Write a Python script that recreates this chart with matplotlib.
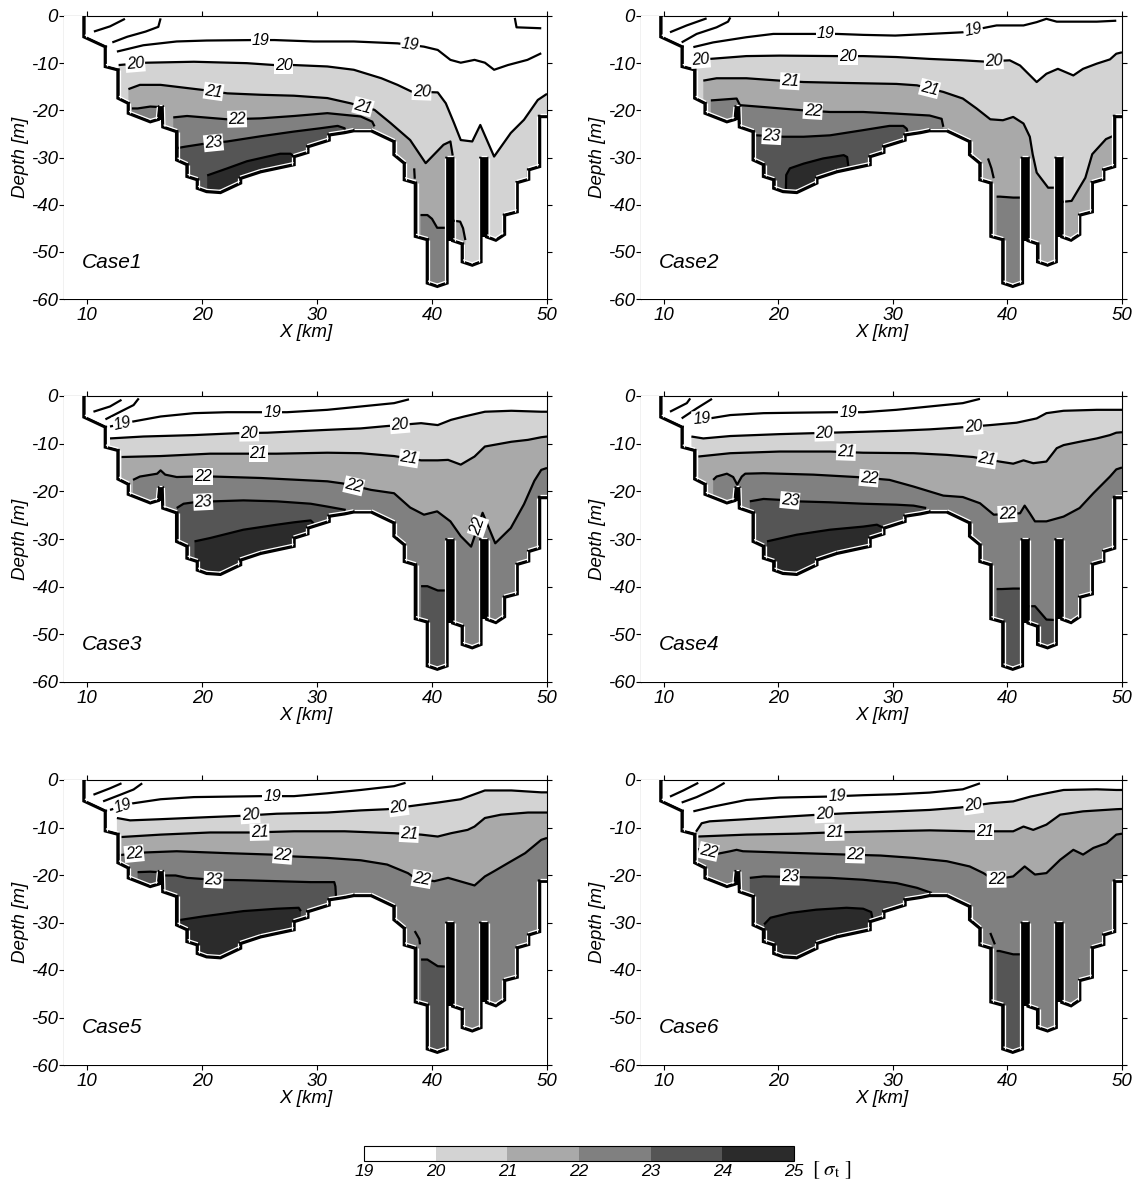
import numpy as np
import matplotlib
matplotlib.use('Agg')
import matplotlib.pyplot as plt
from matplotlib.collections import LineCollection
from matplotlib.transforms import IdentityTransform
from matplotlib.colors import ListedColormap, BoundaryNorm
from matplotlib.cm import ScalarMappable

plt.rcParams['font.family'] = ['Liberation Sans', 'DejaVu Sans']

# ---------------- data ----------------
X_TICKS = [10, 20, 30, 40, 50]
Y_TICKS = [0, -10, -20, -30, -40, -50, -60]
SIGMA_LEVELS = [19, 20, 21, 22, 23, 24, 25]
BAND_GRAYS = ['#ffffff', '#d3d3d3', '#a9a9a9', '#808080', '#555555', '#2b2b2b']
CASE_NAMES = ['Case1', 'Case2', 'Case3', 'Case4', 'Case5', 'Case6']

# bottom topography (x [km], depth [m])
BATHY_X = [9.74, 9.74, 11.6, 11.6, 12.7, 12.7, 13.6, 13.6, 15.5, 16.2, 16.3, 16.55, 16.6,
           17.8, 17.8, 18.7, 18.7, 19.6, 19.6, 20.4, 21.6, 23.35, 23.35, 25.1, 28.0, 28.0,
           29.2, 29.2, 31.05, 31.05, 32.4, 33.2, 34.7, 36.7, 36.7, 37.6, 37.6, 38.56, 38.56,
           39.6, 39.6, 40.46, 41.3, 41.3, 41.8, 41.8, 42.64, 42.64, 43.5, 44.25, 44.25, 44.75,
           44.75, 45.55, 46.3, 46.3, 47.4, 47.4, 48.4, 48.4, 49.35, 49.35, 50.0]
BATHY_Z = [0.0, -4.4, -6.5, -10.7, -11.4, -17.4, -18.5, -20.6, -22.4, -21.9, -19.3, -19.3, -23.5,
           -24.5, -30.5, -31.5, -34.0, -34.7, -36.5, -37.2, -37.4, -35.4, -34.4, -33.0, -31.5, -29.8,
           -28.9, -27.7, -26.3, -25.2, -24.7, -24.3, -24.3, -26.6, -29.4, -31.2, -34.7, -35.4, -46.7,
           -47.4, -56.6, -57.3, -56.6, -30.2, -30.2, -47.6, -48.3, -52.1, -52.8, -52.1, -30.2, -30.2,
           -46.8, -47.5, -46.3, -42.2, -41.5, -35.3, -34.6, -32.6, -31.9, -21.3, -21.3]
RIDGE_X0 = [16.3, 41.3, 44.25]
RIDGE_X1 = [16.55, 41.8, 44.75]
RIDGE_TOP = [-19.3, -30.2, -30.2]
RIDGE_BASE = [-22.0, -47.6, -46.8]

# isopycnal lines per case: sigma_t level -> list of (x, depth)
CASE1_LINES = {
    17: [([10.6, 12.0, 13.3], [-3.3, -2.2, -0.6])],
    18: [([12.2, 13.5, 15.1, 16.2, 16.4], [-5.6, -4.4, -3.3, -2.3, -0.5]),
         ([47.2, 47.35, 49.5], [-0.4, -2.4, -2.6])],
    19: [([12.6, 14.9, 17.8, 20.4, 24.5, 26.3, 29.7, 33.2, 37.0, 39.3, 40.5, 41.6, 42.5, 43.7, 44.6, 45.4, 46.6, 48.3, 49.5],
          [-7.55, -6.2, -5.4, -5.2, -5.1, -5.1, -5.4, -5.4, -5.8, -6.5, -7.2, -9.3, -9.9, -9.3, -9.9, -11.4, -10.4, -9.3, -7.9])],
    20: [([12.75, 15.2, 19.3, 23.9, 26.3, 28.0, 30.9, 33.2, 35.6, 37.0, 38.2, 40.5, 41.2, 41.9, 42.5, 43.5, 44.2, 45.4, 46.85, 48.0, 49.2, 50.0],
          [-10.4, -9.9, -9.7, -10.0, -10.4, -10.4, -10.7, -11.4, -13.2, -14.6, -16.0, -16.2, -18.5, -22.6, -26.3, -26.6, -23.1, -29.8, -24.8, -22.0, -17.8, -16.5])],
    21: [([13.6, 14.6, 16.4, 20.15, 22.2, 25.1, 28.0, 30.9, 32.9, 35.0, 36.4, 38.1, 39.45, 41.0, 41.6, 41.8],
          [-15.5, -14.6, -14.6, -15.7, -16.4, -16.7, -16.9, -17.4, -18.5, -19.9, -22.7, -26.3, -31.2, -27.3, -26.6, -29.6]),
         ([41.9, 42.45, 42.7, 42.9], [-43.4, -43.6, -45.0, -47.5])],
    22: [([17.5, 18.7, 22.2, 25.1, 28.0, 30.9, 33.8, 34.8, 35.0],
          [-21.5, -21.2, -21.9, -21.7, -21.2, -20.6, -21.3, -22.4, -23.4]),
         ([13.9, 14.4, 15.5, 16.3], [-19.6, -19.6, -19.2, -19.3]),
         ([39.0, 39.6, 40.0, 40.45, 41.3], [-42.2, -42.2, -43.0, -44.9, -44.9])],
    23: [([17.85, 18.55, 20.15, 22.2, 25.1, 28.0, 30.3, 31.8, 32.4, 32.45],
          [-28.0, -27.7, -27.1, -26.6, -25.5, -24.5, -23.8, -23.3, -23.8, -24.5])],
    24: [([20.45, 22.2, 23.9, 25.7, 26.8, 27.7, 28.0],
          [-33.8, -32.3, -30.8, -29.8, -29.2, -29.2, -29.8])],
}
CASE1_MARKS = [([38.45, 38.5], [-32.3, -34.5])]
CASE1_LABELS = {19: [25.1, 38.1], 20: [14.2, 27.1, 39.1], 21: [21.0, 34.0], 22: [23.05], 23: [21.0]}

CASE2_LINES = {
    17: [([10.53, 11.99, 13.73], [-3.45, -2.0, -0.5])],
    18: [([11.55, 12.86, 14.6, 15.6, 15.8], [-5.6, -3.8, -2.4, -1.2, -0.3])],
    19: [([12.57, 14.3, 17.2, 19.55, 23.05, 25.1, 27.4, 30.2, 33.2, 36.1, 38.2, 39.05, 40.2, 41.4, 42.55, 43.4, 44.3, 45.75, 47.8, 49.5],
          [-6.6, -5.6, -4.5, -3.8, -3.8, -3.8, -4.0, -4.15, -3.8, -3.45, -2.4, -2.0, -2.0, -2.0, -1.3, -0.6, -1.2, -1.2, -1.2, -1.0])],
    20: [([12.6, 14.0, 17.2, 20.1, 25.1, 27.4, 30.3, 33.2, 36.1, 37.9, 40.2, 41.1, 42.55, 43.4, 44.4, 45.75, 46.6, 47.8, 48.95, 49.5, 50.0],
          [-9.4, -9.1, -8.5, -8.4, -8.5, -8.5, -8.7, -9.1, -9.4, -9.65, -9.4, -10.5, -14.0, -12.25, -11.2, -12.6, -11.2, -10.1, -9.2, -8.0, -7.7])],
    21: [([13.44, 14.6, 17.2, 20.1, 22.2, 25.95, 30.3, 32.1, 34.4, 36.1, 37.3, 38.5, 39.6, 40.5, 41.4, 41.95, 42.2, 42.55, 43.55, 44.25],
          [-13.7, -13.2, -13.2, -13.7, -14.0, -14.2, -14.4, -14.7, -16.1, -17.5, -19.6, -21.9, -22.1, -21.4, -22.8, -25.6, -29.3, -33.2, -36.4, -36.4]),
         ([44.8, 45.6, 46.8, 47.4, 48.6, 49.35], [-39.4, -39.2, -34.3, -29.3, -26.1, -25.3])],
    22: [([14.1, 16.35, 16.64, 18.7, 22.2, 24.5, 27.4, 30.3, 33.2, 34.25, 34.4],
          [-17.9, -17.5, -18.9, -19.3, -20.0, -20.35, -20.35, -20.7, -21.1, -21.8, -23.5]),
         ([39.05, 39.35, 40.5, 41.3], [-38.3, -38.3, -38.5, -38.5])],
    23: [([17.85, 18.1, 20.43, 22.2, 24.5, 27.4, 29.7, 30.9, 31.2, 31.35],
          [-25.3, -25.3, -25.6, -25.6, -25.3, -24.2, -23.3, -23.3, -23.9, -25.3])],
    24: [([20.65, 20.68, 21.0, 22.2, 23.9, 25.7, 26.0, 26.1],
          [-36.8, -33.7, -32.3, -31.3, -30.2, -29.5, -29.9, -31.8])],
}
CASE2_MARKS = [([38.3, 38.6, 38.8], [-30.2, -32.3, -34.4])]
CASE2_LABELS = {19: [24.1, 37.0], 20: [13.2, 26.1, 38.8], 21: [21.0, 33.2], 22: [23.0], 23: [19.4]}

CASE3_LINES = {
    17: [([10.56, 12.0, 13.0], [-3.3, -2.2, -0.8])],
    18: [([11.6, 12.9, 14.05, 14.5], [-4.9, -3.3, -1.9, -0.5])],
    19: [([12.0, 13.9, 16.4, 19.3, 22.2, 25.1, 27.4, 30.9, 33.8, 36.7, 38.0],
          [-6.4, -5.4, -4.3, -3.6, -3.4, -3.4, -3.4, -2.9, -2.2, -1.5, -0.7])],
    20: [([12.0, 14.9, 19.3, 23.05, 25.7, 30.9, 33.8, 36.1, 39.05, 40.5, 41.66, 42.8, 44.6, 46.9, 49.5, 50.0],
          [-8.9, -8.5, -8.2, -7.8, -7.7, -7.1, -6.8, -6.3, -5.7, -6.1, -5.0, -4.3, -3.3, -3.1, -3.3, -3.3])],
    21: [([13.0, 16.4, 20.7, 24.2, 26.5, 30.9, 33.8, 36.7, 39.05, 40.5, 41.4, 42.5, 43.7, 44.6, 46.9, 48.35, 49.5, 50.0],
          [-12.8, -12.6, -12.1, -12.1, -12.1, -11.9, -12.0, -12.6, -13.5, -13.5, -13.4, -14.4, -12.7, -10.6, -9.6, -9.2, -8.65, -8.5])],
    22: [([14.0, 14.6, 16.1, 16.4, 16.8, 17.8, 19.3, 21.0, 25.1, 30.9, 32.4, 34.7, 36.7, 38.1, 39.3, 40.45, 41.6, 42.5, 43.4, 44.4, 45.5, 46.85, 48.0, 48.9, 49.5, 50.0],
          [-17.6, -16.9, -16.3, -15.6, -16.5, -17.0, -16.9, -16.9, -17.2, -17.9, -18.4, -19.7, -20.4, -23.4, -24.9, -24.2, -26.3, -29.4, -31.6, -24.5, -30.9, -27.7, -22.7, -17.8, -15.5, -15.1])],
    23: [([17.8, 18.4, 19.3, 21.0, 23.6, 26.5, 29.45, 30.9, 32.5],
          [-23.5, -22.6, -22.3, -22.1, -21.9, -22.1, -22.6, -23.2, -23.9]),
         ([39.05, 39.6, 40.5, 41.3], [-39.9, -39.9, -40.8, -40.8])],
    24: [([19.35, 20.7, 23.6, 26.5, 28.0, 29.45, 29.7],
          [-30.5, -29.8, -28.05, -27.0, -26.5, -26.1, -26.7])],
}
CASE3_MARKS = []
CASE3_LABELS = {19: [13.1, 26.1], 20: [24.1, 37.2], 21: [24.9, 38.0], 22: [20.1, 33.2, 44.0], 23: [20.1]}

CASE4_LINES = {
    17: [([10.53, 12.0, 12.3], [-3.3, -1.5, -0.5])],
    18: [([11.55, 12.86, 14.2], [-4.7, -2.6, -0.6])],
    19: [([12.57, 14.0, 15.8, 18.7, 21.6, 25.1, 27.4, 30.3, 33.2, 36.1, 37.6],
          [-5.0, -4.7, -4.0, -3.6, -3.5, -3.4, -3.4, -2.9, -2.2, -1.5, -0.6])],
    20: [([12.4, 13.44, 15.8, 20.1, 23.05, 26.0, 30.3, 33.2, 35.85, 38.5, 40.8, 42.55, 43.4, 44.9, 47.8, 49.5, 50.0],
          [-8.5, -8.9, -8.4, -8.0, -7.8, -7.6, -7.3, -7.0, -6.6, -6.1, -5.6, -4.7, -3.6, -3.1, -2.9, -2.9, -2.9])],
    21: [([13.0, 15.8, 20.1, 24.5, 27.4, 31.8, 34.7, 37.0, 39.3, 40.5, 41.4, 42.25, 43.4, 44.3, 44.9, 46.3, 47.8, 48.95, 49.5, 50.0],
          [-12.7, -12.0, -11.65, -11.65, -11.9, -12.0, -12.35, -12.8, -13.75, -14.2, -13.5, -14.1, -13.75, -10.95, -10.3, -9.6, -8.9, -8.2, -7.7, -7.6])],
    22: [([14.3, 14.6, 15.5, 16.05, 16.4, 16.8, 17.1, 18.7, 23.05, 26.8, 29.7, 31.8, 34.4, 36.1, 37.6, 38.8, 41.1, 41.5, 41.95, 42.4, 43.4, 44.9, 46.3, 47.5, 48.95, 49.5, 50.0],
          [-17.6, -16.9, -16.3, -17.0, -18.6, -16.9, -16.3, -16.2, -16.5, -17.0, -17.6, -19.0, -20.9, -21.2, -22.5, -24.9, -24.6, -23.0, -24.6, -26.3, -26.3, -25.3, -23.5, -20.4, -16.9, -15.4, -15.0])],
    23: [([17.5, 18.7, 21.0, 21.6, 24.5, 27.4, 30.3, 31.8, 32.9],
          [-22.1, -21.6, -21.9, -22.1, -22.3, -22.6, -22.8, -23.0, -23.5]),
         ([39.05, 39.5, 40.5, 41.3], [-40.5, -40.5, -40.4, -40.4]),
         ([41.8, 42.4, 43.4, 44.25], [-44.1, -44.1, -46.9, -47.0])],
    24: [([19.0, 21.6, 24.5, 27.4, 28.6, 29.2],
          [-30.5, -29.1, -28.05, -27.4, -27.0, -27.7])],
}
CASE4_MARKS = []
CASE4_LABELS = {19: [13.3, 26.1], 20: [24.0, 37.0], 21: [25.9, 38.2], 22: [27.9, 40.0], 23: [21.0]}

CASE5_LINES = {
    17: [([10.56, 12.0, 13.0], [-3.1, -1.75, -0.7])],
    18: [([11.4, 12.9, 14.05, 14.8], [-4.5, -3.1, -2.0, -0.7])],
    19: [([12.0, 13.75, 16.4, 19.3, 25.1, 28.0, 30.9, 33.8, 36.7, 37.7],
          [-6.3, -5.0, -4.05, -3.6, -3.4, -3.4, -2.8, -2.1, -1.3, -0.6])],
    20: [([12.6, 13.75, 16.4, 20.7, 23.35, 26.5, 30.9, 33.8, 36.1, 39.05, 40.5, 42.5, 44.6, 46.9, 49.5, 50.0],
          [-8.0, -8.5, -8.25, -7.8, -7.55, -7.1, -6.85, -6.4, -6.15, -5.2, -4.75, -4.05, -2.2, -2.2, -2.6, -2.6])],
    21: [([13.0, 16.4, 20.7, 24.2, 28.0, 32.4, 36.7, 39.05, 40.5, 41.66, 43.1, 43.7, 44.6, 46.0, 48.35, 49.5, 50.0],
          [-12.0, -11.5, -11.05, -11.05, -10.8, -10.8, -11.2, -11.5, -11.9, -11.2, -10.5, -9.8, -8.0, -7.3, -6.85, -6.85, -6.85])],
    22: [([12.85, 15.1, 17.8, 22.2, 26.0, 28.0, 30.9, 33.8, 36.1, 37.9, 38.5, 40.2, 41.4, 43.7, 44.6, 45.4, 46.6, 48.1, 49.5, 50.0],
          [-15.8, -15.25, -15.0, -15.4, -15.7, -16.1, -16.4, -16.9, -17.8, -19.6, -20.6, -21.3, -20.6, -22.2, -20.3, -19.2, -17.5, -15.4, -12.6, -12.2])],
    23: [([16.7, 17.7, 18.7, 21.0, 23.6, 26.5, 29.45, 31.5, 31.6, 31.65],
          [-20.1, -20.1, -20.6, -21.0, -21.1, -21.3, -21.5, -21.5, -22.4, -24.5]),
         ([14.4, 15.5, 16.2], [-19.4, -19.3, -19.4]),
         ([39.05, 39.6, 40.5, 41.3], [-37.8, -37.8, -39.2, -39.3])],
    24: [([18.0, 20.15, 23.6, 26.5, 28.4, 28.6],
          [-29.5, -28.7, -27.6, -27.1, -26.9, -27.6])],
}
CASE5_MARKS = [([38.5, 38.9, 38.95], [-31.8, -33.5, -34.6])]
CASE5_LABELS = {19: [13.1, 26.1], 20: [24.2, 37.1], 21: [25.0, 38.0], 22: [14.1, 27.0, 39.1], 23: [21.0]}

CASE6_LINES = {
    17: [([10.53, 11.7, 13.0], [-3.5, -2.2, -0.6])],
    18: [([11.55, 12.86, 14.3, 15.3], [-4.75, -3.6, -2.0, -0.6])],
    19: [([12.57, 14.3, 17.2, 20.1, 24.2, 27.4, 30.3, 33.2, 36.1, 37.6],
          [-6.6, -5.6, -4.2, -3.7, -3.5, -3.2, -3.0, -2.65, -1.96, -0.7])],
    20: [([12.8, 13.3, 14.0, 17.2, 20.1, 23.2, 25.95, 30.3, 33.2, 35.85, 38.5, 40.5, 42.0, 43.4, 44.9, 47.8, 49.5, 50.0],
          [-10.9, -9.1, -8.7, -8.25, -7.8, -7.35, -7.0, -6.6, -6.3, -5.8, -4.9, -4.5, -3.5, -2.8, -2.1, -1.96, -2.1, -2.1])],
    21: [([13.0, 17.2, 21.6, 24.5, 29.1, 33.2, 37.0, 39.05, 40.5, 41.4, 42.25, 43.4, 44.6, 46.6, 49.5, 50.0],
          [-11.9, -11.5, -11.3, -11.05, -10.8, -10.6, -10.8, -10.8, -10.8, -9.8, -10.5, -9.4, -7.3, -6.6, -6.15, -6.1])],
    22: [([12.9, 14.75, 15.8, 16.35, 16.9, 20.1, 23.3, 25.95, 28.9, 31.8, 34.7, 36.7, 37.9, 38.8, 40.5, 41.5, 42.4, 43.4, 44.6, 45.75, 46.6, 47.5, 48.65, 49.5, 50.0],
          [-14.5, -15.5, -15.0, -14.7, -15.0, -15.25, -15.5, -15.7, -15.9, -16.4, -17.1, -18.2, -19.6, -21.0, -20.3, -18.2, -19.9, -19.6, -16.8, -14.7, -15.7, -14.3, -13.3, -11.5, -11.3])],
    23: [([17.5, 18.7, 21.0, 24.5, 27.4, 30.3, 32.1, 33.4],
          [-20.6, -20.3, -20.4, -20.6, -21.0, -21.7, -22.7, -23.8]),
         ([39.05, 39.3, 40.5, 41.3], [-36.0, -36.0, -36.7, -36.7])],
    24: [([18.75, 19.3, 21.0, 23.3, 25.95, 27.4, 28.1, 28.3],
          [-30.4, -29.0, -28.0, -27.3, -26.9, -27.1, -27.8, -30.1])],
}
CASE6_MARKS = [([38.5, 38.9], [-32.2, -34.6])]
CASE6_LABELS = {19: [25.1], 20: [24.0, 37.0], 21: [24.9, 38.0], 22: [13.9, 26.7, 39.05], 23: [21.0]}

ALL_LINES = [CASE1_LINES, CASE2_LINES, CASE3_LINES, CASE4_LINES, CASE5_LINES, CASE6_LINES]
ALL_MARKS = [CASE1_MARKS, CASE2_MARKS, CASE3_MARKS, CASE4_MARKS, CASE5_MARKS, CASE6_MARKS]
ALL_LABELS = [CASE1_LABELS, CASE2_LABELS, CASE3_LABELS, CASE4_LABELS, CASE5_LABELS, CASE6_LABELS]

# ---------------- layout ----------------
W, H, DPI = 1139, 1184, 100
COLS = [(64, 547), (641, 1122)]
ROWS = [(16, 299), (396, 682), (780, 1065)]
XMIN, XMAX, ZMIN, ZMAX = 8, 50, -60, 0


def rect(l, t, r, b):
    return [l / W, 1 - b / H, (r - l) / W, (b - t) / H]


def z_at(xs, zs, x):
    if x <= xs[0]:
        return zs[0]
    for i in range(len(xs) - 1):
        if xs[i] <= x <= xs[i + 1]:
            if xs[i + 1] == xs[i]:
                return zs[i]
            t = (x - xs[i]) / (xs[i + 1] - xs[i])
            return zs[i] + t * (zs[i + 1] - zs[i])
    return zs[-1]


fig = plt.figure(figsize=(W / DPI, H / DPI), dpi=DPI)

for k in range(6):
    r, c = divmod(k, 2)
    ax = fig.add_axes(rect(COLS[c][0], ROWS[r][0], COLS[c][1], ROWS[r][1]))
    ax.set_xlim(XMIN, XMAX)
    ax.set_ylim(ZMIN, ZMAX)
    lines = ALL_LINES[k]

    # density bands (filled below each isopycnal)
    for lev in sorted(lines):
        if lev < 20:
            continue
        col = BAND_GRAYS[SIGMA_LEVELS.index(lev)]
        for xs, zs in lines[lev]:
            px = list(xs) + [xs[-1], xs[0]]
            pz = list(zs) + [ZMIN, ZMIN]
            ax.fill(px, pz, color=col, lw=0, zorder=1)

    # contour lines
    for lev in sorted(lines):
        for xs, zs in lines[lev]:
            ax.plot(xs, zs, color='black', lw=1.6, zorder=2, solid_capstyle='butt')
    for xs, zs in ALL_MARKS[k]:
        ax.plot(xs, zs, color='black', lw=1.6, zorder=2, solid_capstyle='butt')

    # land mask
    land_x = [XMIN] + BATHY_X + [XMAX, XMIN]
    land_z = [ZMAX] + BATHY_Z + [ZMIN, ZMIN]
    ax.fill(land_x, land_z, color='white', lw=0, zorder=3)
    ax.plot(BATHY_X, BATHY_Z, color='black', lw=2.5, zorder=4, solid_joinstyle='miter')

    # white highlight on water side of the bottom outline
    pts = ax.transData.transform(np.column_stack([BATHY_X, BATHY_Z]))
    off = 1.5 * DPI / 72.0
    segs = []
    for i in range(len(pts) - 1):
        d = pts[i + 1] - pts[i]
        n = np.hypot(d[0], d[1])
        if n == 0:
            continue
        nv = np.array([-d[1], d[0]]) / n * off
        segs.append([pts[i] + nv, pts[i + 1] + nv])
    lc = LineCollection(segs, colors='white', linewidths=0.9, transform=IdentityTransform(), zorder=4.1)
    lc.set_clip_path(ax.patch)
    ax.add_collection(lc)

    for x0, x1, zt, zb in zip(RIDGE_X0, RIDGE_X1, RIDGE_TOP, RIDGE_BASE):
        ax.fill([x0, x1, x1, x0], [zt, zt, zb, zb], color='black', lw=0, zorder=4.2)

    # contour labels
    for lev, xlist in ALL_LABELS[k].items():
        xs, zs = lines[lev][0]
        for x in xlist:
            z = z_at(xs, zs, x)
            p0 = ax.transData.transform((x - 0.4, z_at(xs, zs, x - 0.4)))
            p1 = ax.transData.transform((x + 0.4, z_at(xs, zs, x + 0.4)))
            ang = np.degrees(np.arctan2(p1[1] - p0[1], p1[0] - p0[0]))
            ax.text(x, z, str(lev), rotation=ang, rotation_mode='anchor', ha='center', va='center',
                    fontsize=11.5, style='italic', zorder=5,
                    bbox=dict(boxstyle='square,pad=0.06', fc='white', ec='none'))

    ax.text(0.037, 0.13, CASE_NAMES[k], transform=ax.transAxes, fontsize=15, style='italic',
            ha='left', va='center', zorder=6)

    ax.set_xticks(X_TICKS)
    ax.set_xticklabels([str(v) for v in X_TICKS], fontsize=13.5, style='italic')
    ax.set_yticks(Y_TICKS)
    ax.set_yticklabels([str(v) for v in Y_TICKS], fontsize=13.5, style='italic')
    ax.tick_params(direction='out', length=3.5, width=0.8, top=True, right=True, pad=2)
    ax.tick_params(axis='y', pad=1)
    ax.set_xlabel('X [km]', fontsize=13.5, style='italic', labelpad=0)
    ax.set_ylabel('Depth [m]', fontsize=13.5, style='italic', labelpad=1)
    for s in ax.spines.values():
        s.set_linewidth(0.8)

# colorbar
cax = fig.add_axes(rect(364, 1146, 794, 1161))
cmap = ListedColormap(BAND_GRAYS)
norm = BoundaryNorm(SIGMA_LEVELS, cmap.N)
cb = fig.colorbar(ScalarMappable(norm=norm, cmap=cmap), cax=cax, orientation='horizontal',
                  ticks=SIGMA_LEVELS)
cb.ax.tick_params(length=0, pad=2)
cb.ax.set_xticklabels([str(v) for v in SIGMA_LEVELS], fontsize=12.5, style='italic')
cb.outline.set_linewidth(0.8)
fig.text(812 / W, 1 - 1170 / H, r'$[\ \sigma_{\mathrm{t}}\ ]$', fontsize=15, math_fontfamily='stix',
         ha='left', va='center')

fig.savefig('out.png', dpi=DPI)
